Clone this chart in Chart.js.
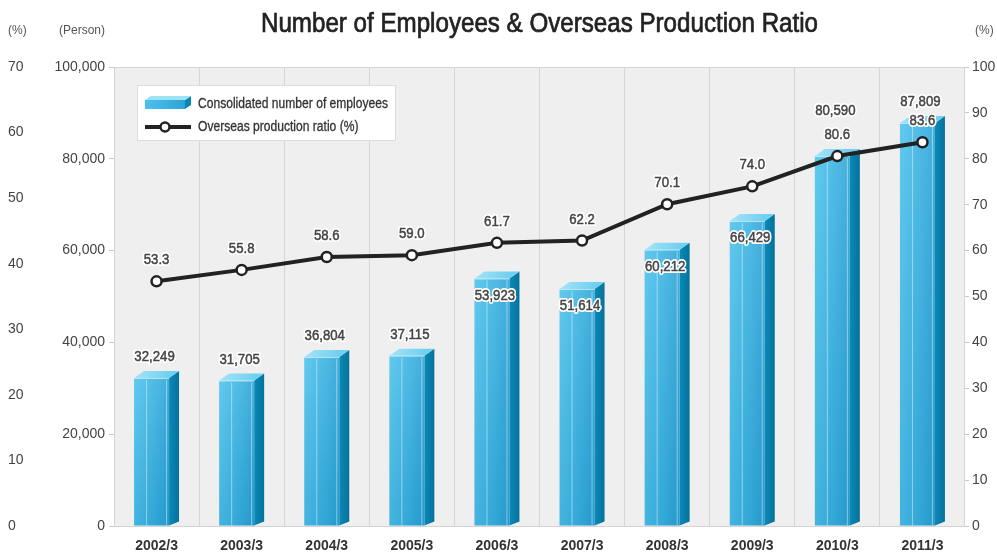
<!DOCTYPE html>
<html>
<head>
<meta charset="utf-8">
<script src="https://cdn.jsdelivr.net/npm/chart.js@4"></script>
<style>
html,body{margin:0;padding:0;background:#fff;}
#wrap{width:997px;height:558px;}
</style>
</head>
<body>
<div id="wrap"><canvas id="c" width="997" height="558"></canvas></div>
<script>
const categories = ['2002/3','2003/3','2004/3','2005/3','2006/3','2007/3','2008/3','2009/3','2010/3','2011/3'];
const employees = [32249, 31705, 36804, 37115, 53923, 51614, 60212, 66429, 80590, 87809];
const overseasRatio = [53.3, 55.8, 58.6, 59.0, 61.7, 62.2, 70.1, 74.0, 80.6, 83.6];
const leftPctTicks = [0, 10, 20, 30, 40, 50, 60, 70];
const personTicks = [0, 20000, 40000, 60000, 80000, 100000];
const rightPctTicks = [0, 10, 20, 30, 40, 50, 60, 70, 80, 90, 100];
const titleText = 'Number of Employees & Overseas Production Ratio';
const legendLabels = ['Consolidated number of employees', 'Overseas production ratio (%)'];

// label placement style (inside bar top vs above)
const barLabelInside = [false,false,false,false,true,true,true,true,false,false];

const FONT = '"Liberation Sans", Arial, sans-serif';
const DEPTH_X = 10, DEPTH_Y = 7, FRONT_W = 35;

function fmt(v){ return v.toLocaleString('en-US'); }

function narrowText(ctx, text, x, y, font, sx, align, halo, strokeW){
  ctx.save();
  ctx.font = font;
  ctx.textBaseline = 'middle';
  ctx.textAlign = align;
  ctx.translate(x, y);
  ctx.scale(sx, 1);
  if (halo){
    ctx.lineJoin = 'round';
    ctx.strokeStyle = '#ffffff'; ctx.lineWidth = 4;
    ctx.strokeText(text, 0, 0);
  }
  ctx.fillText(text, 0, 0);
  if (strokeW){
    ctx.strokeStyle = ctx.fillStyle; ctx.lineWidth = strokeW;
    ctx.strokeText(text, 0, 0);
  }
  ctx.restore();
}

function drawBar3D(ctx, x0, top, base){
  const x1 = x0 + FRONT_W;
  let g = ctx.createLinearGradient(x1, 0, x1 + DEPTH_X, 0);
  g.addColorStop(0, '#0a8ab8'); g.addColorStop(1, '#06719a');
  ctx.fillStyle = g;
  ctx.beginPath();
  ctx.moveTo(x1, top); ctx.lineTo(x1 + DEPTH_X, top - DEPTH_Y);
  ctx.lineTo(x1 + DEPTH_X, base - 4); ctx.lineTo(x1, base); ctx.closePath(); ctx.fill();
  g = ctx.createLinearGradient(x0, 0, x1, 0);
  g.addColorStop(0, '#4cc2ec'); g.addColorStop(0.55, '#38b3e2'); g.addColorStop(1, '#2aa2d6');
  ctx.fillStyle = g;
  ctx.fillRect(x0, top, FRONT_W, base - top);
  g = ctx.createLinearGradient(0, top, 0, base);
  g.addColorStop(0, 'rgba(255,255,255,0.12)'); g.addColorStop(1, 'rgba(0,60,110,0.10)');
  ctx.fillStyle = g;
  ctx.fillRect(x0, top, FRONT_W, base - top);
  ctx.fillStyle = 'rgba(255,255,255,0.45)';
  ctx.fillRect(x0 + 12, top + 2, 1, base - top - 2);
  ctx.fillRect(x1 - 3, top + 2, 1, base - top - 2);
  g = ctx.createLinearGradient(x0, top - DEPTH_Y, x1, top);
  g.addColorStop(0, '#a6e4f8'); g.addColorStop(1, '#6fd0f0');
  ctx.fillStyle = g;
  ctx.beginPath();
  ctx.moveTo(x0, top); ctx.lineTo(x0 + DEPTH_X, top - DEPTH_Y);
  ctx.lineTo(x1 + DEPTH_X, top - DEPTH_Y); ctx.lineTo(x1, top); ctx.closePath(); ctx.fill();
  ctx.strokeStyle = 'rgba(255,255,255,0.6)'; ctx.lineWidth = 1;
  ctx.beginPath(); ctx.moveTo(x0, top + 0.5); ctx.lineTo(x1, top + 0.5); ctx.stroke();
}

const bgPlugin = {
  id: 'bg',
  beforeDraw(chart){
    const {ctx, chartArea:a} = chart;
    ctx.save();
    ctx.fillStyle = '#ffffff'; ctx.fillRect(0, 0, chart.width, chart.height);
    ctx.fillStyle = '#efefef'; ctx.fillRect(a.left, a.top, a.right - a.left, a.bottom - a.top);
    ctx.restore();
  },
  afterDraw(chart){
    const {ctx, chartArea:a} = chart;
    ctx.save();
    ctx.strokeStyle = '#d4d4d4'; ctx.lineWidth = 1;
    ctx.strokeRect(a.left + 0.5, a.top + 0.5, a.right - a.left - 1, a.bottom - a.top);
    ctx.restore();
  }
};

const bar3dPlugin = {
  id: 'bar3d',
  afterDatasetDraw(chart, args){
    if (args.index !== 1) return;
    const ctx = chart.ctx;
    ctx.save();
    args.meta.data.forEach(el => {
      drawBar3D(ctx, el.x - el.width / 2, el.y, el.base);
    });
    ctx.restore();
  }
};

const labelPlugin = {
  id: 'labels',
  afterDatasetsDraw(chart){
    const ctx = chart.ctx;
    ctx.save();
    ctx.fillStyle = '#444';
    const LF = '15px ' + FONT;
    const bars = chart.getDatasetMeta(1).data;
    const pts = chart.getDatasetMeta(0).data;
    bars.forEach((el, i) => {
      const cx = el.x - el.width / 2 + FRONT_W / 2 + 3;
      const ptLabelY = pts[i].y - 21;
      let y;
      if (barLabelInside[i]) {
        y = el.y + 17;
      } else {
        y = el.y - DEPTH_Y - 14;
        if (Math.abs(y - ptLabelY) < 18) y = ptLabelY - 24;
      }
      narrowText(ctx, fmt(employees[i]), cx, y, LF, 0.88, 'center', true, 0.5);
    });
    pts.forEach((el, i) => {
      narrowText(ctx, overseasRatio[i].toFixed(1), el.x, el.y - 21, LF, 0.88, 'center', true, 0.5);
    });
    ctx.restore();
  }
};

const decoPlugin = {
  id: 'deco',
  afterDraw(chart){
    const {ctx, chartArea:a} = chart;
    ctx.save();
    ctx.fillStyle = '#222';
    ctx.font = '27px ' + FONT;
    const tw = ctx.measureText(titleText).width;
    narrowText(ctx, titleText, (a.left + a.right) / 2, 25, '27px ' + FONT, 557 / tw, 'center', false, 0.7);
    ctx.fillStyle = '#555';
    narrowText(ctx, '(%)', 8, 31, '12px ' + FONT, 1, 'left', false);
    narrowText(ctx, '(Person)', 105, 31, '12px ' + FONT, 1, 'right', false);
    narrowText(ctx, '(%)', 975, 31, '12px ' + FONT, 1, 'left', false);
    // legend
    const lx = 137, ly = 85, lw = 258, lh = 55;
    ctx.fillStyle = '#ffffff'; ctx.fillRect(lx, ly, lw, lh);
    ctx.strokeStyle = '#dddddd'; ctx.lineWidth = 1; ctx.strokeRect(lx + 0.5, ly + 0.5, lw, lh);
    const bx = 145, by = 100;
    let g = ctx.createLinearGradient(bx, 0, bx + 42, 0);
    g.addColorStop(0, '#4cc2ec'); g.addColorStop(1, '#2aa2d6');
    ctx.fillStyle = g; ctx.fillRect(bx, by, 40, 9);
    ctx.fillStyle = '#0a86b4';
    ctx.beginPath(); ctx.moveTo(bx + 40, by); ctx.lineTo(bx + 46, by - 4); ctx.lineTo(bx + 46, by + 5); ctx.lineTo(bx + 40, by + 9); ctx.closePath(); ctx.fill();
    ctx.fillStyle = '#9fe1f7';
    ctx.beginPath(); ctx.moveTo(bx, by); ctx.lineTo(bx + 6, by - 4); ctx.lineTo(bx + 46, by - 4); ctx.lineTo(bx + 40, by); ctx.closePath(); ctx.fill();
    ctx.strokeStyle = '#222'; ctx.lineWidth = 4;
    ctx.beginPath(); ctx.moveTo(145, 127); ctx.lineTo(191, 127); ctx.stroke();
    ctx.fillStyle = '#fff'; ctx.lineWidth = 2.5;
    ctx.beginPath(); ctx.arc(165, 127, 4.5, 0, Math.PI * 2); ctx.fill(); ctx.stroke();
    ctx.fillStyle = '#333';
    ctx.font = '14px ' + FONT;
    const w0 = ctx.measureText(legendLabels[0]).width;
    narrowText(ctx, legendLabels[0], 198, 104, '14px ' + FONT, 190 / w0, 'left', false, 0.3);
    narrowText(ctx, legendLabels[1], 198, 127, '14px ' + FONT, 190 / w0, 'left', false, 0.3);
    ctx.restore();
  }
};

const tickFont = {family: FONT, size: 14};

new Chart(document.getElementById('c'), {
  data: {
    labels: categories,
    datasets: [
      {
        type: 'line', label: legendLabels[1], data: overseasRatio, yAxisID: 'yRight', order: 0,
        borderColor: '#222', borderWidth: 4, tension: 0,
        pointRadius: 5, pointBackgroundColor: '#fff', pointBorderColor: '#222', pointBorderWidth: 2.5
      },
      {
        type: 'bar', label: legendLabels[0], data: employees, yAxisID: 'y', order: 1,
        backgroundColor: 'rgba(0,0,0,0)', borderWidth: 0, barThickness: FRONT_W + DEPTH_X
      }
    ]
  },
  options: {
    responsive: false, animation: false,
    layout: {padding: {left: 8, right: 0, top: 67, bottom: 0}},
    plugins: {legend: {display: false}, tooltip: {enabled: false}, title: {display: false}},
    scales: {
      x: {
        offset: true,
        grid: {offset: true, color: '#d6d6d6', drawTicks: false},
        border: {display: false},
        ticks: {font: {family: FONT, size: 14, weight: 'bold'}, color: '#333', padding: 12, maxRotation: 0},
        afterFit(s){ s.height = 32; }
      },
      yPct: {
        position: 'left', weight: 2, min: 0, max: 70,
        afterBuildTicks(s){ s.ticks = leftPctTicks.map(v => ({value: v})); },
        grid: {display: false}, border: {display: false},
        ticks: {font: tickFont, color: '#444', crossAlign: 'far', padding: 0},
        afterFit(s){ s.width = 46; }
      },
      y: {
        position: 'left', weight: 1, min: 0, max: 100000,
        afterBuildTicks(s){ s.ticks = personTicks.map(v => ({value: v})); },
        grid: {drawOnChartArea: false, tickLength: 5, color: '#c8c8c8'}, border: {display: false},
        ticks: {font: tickFont, color: '#444', padding: 4, callback: v => fmt(v)},
        afterFit(s){ s.width = 60; }
      },
      yRight: {
        position: 'right', min: 0, max: 100,
        afterBuildTicks(s){ s.ticks = rightPctTicks.map(v => ({value: v})); },
        grid: {drawOnChartArea: false, tickLength: 4, color: '#c8c8c8'}, border: {display: false},
        ticks: {font: tickFont, color: '#444', padding: 3},
        afterFit(s){ s.width = 32; }
      }
    }
  },
  plugins: [bgPlugin, bar3dPlugin, labelPlugin, decoPlugin]
});
</script>
</body>
</html>
